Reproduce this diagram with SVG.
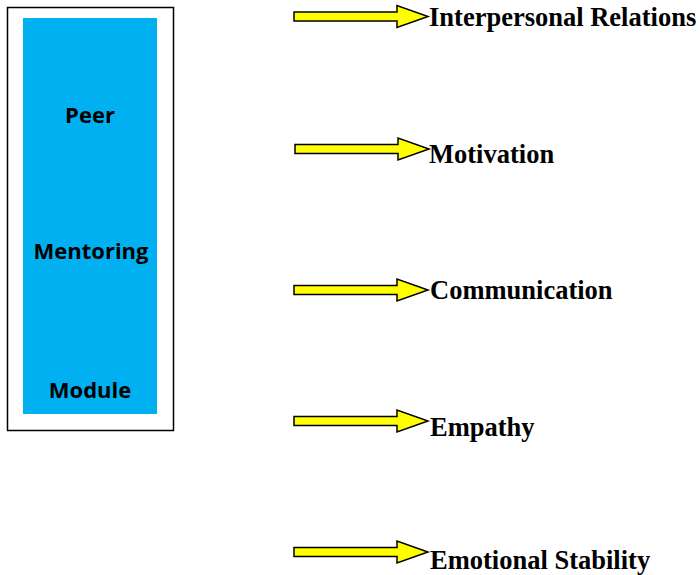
<svg xmlns="http://www.w3.org/2000/svg" width="700" height="575" viewBox="0 0 700 575">
  <defs>
    <style>
      .frame { fill: #ffffff; stroke: #000000; stroke-width: 1.5; }
      .panel { fill: #00b0f0; }
      .panel-label { font-family: "Open Sans", "Liberation Sans", sans-serif; font-weight: bold; font-size: 22px; fill: #000000; text-anchor: middle; }
      .arrow { fill: #ffff00; stroke: #000000; stroke-width: 1.5; stroke-linejoin: miter; }
      .outcome { font-family: "Liberation Serif", "Times New Roman", serif; font-weight: bold; font-size: 26.5px; fill: #000000; }
    </style>
    <!-- block arrow pointing right, tip at origin -->
    <path id="blockArrow" d="M -134 -4.5 L -31 -4.5 L -31 -11 L 0 0 L -31 11 L -31 4.5 L -134 4.5 Z"/>
  </defs>

  <g id="module">
    <rect class="frame" x="7.5" y="7.5" width="166" height="423"/>
    <rect class="panel" x="23" y="18" width="134" height="396"/>
    <text class="panel-label" x="90" y="123">Peer</text>
    <text class="panel-label" x="91" y="259">Mentoring</text>
    <text class="panel-label" x="90" y="398">Module</text>
  </g>

  <g id="connectors">
    <use href="#blockArrow" class="arrow" x="428" y="16.5"/>
    <use href="#blockArrow" class="arrow" x="429" y="149"/>
    <use href="#blockArrow" class="arrow" x="428" y="290"/>
    <use href="#blockArrow" class="arrow" x="428" y="421"/>
    <use href="#blockArrow" class="arrow" x="428" y="552"/>
  </g>

  <g id="interpersonal-relations">
    <text class="outcome" x="429" y="26">Interpersonal Relations</text>
  </g>
  <g id="motivation">
    <text class="outcome" x="429" y="162.5">Motivation</text>
  </g>
  <g id="communication">
    <text class="outcome" x="430" y="298.5">Communication</text>
  </g>
  <g id="empathy">
    <text class="outcome" x="430" y="435.5">Empathy</text>
  </g>
  <g id="emotional-stability">
    <text class="outcome" x="430" y="569">Emotional Stability</text>
  </g>
</svg>
